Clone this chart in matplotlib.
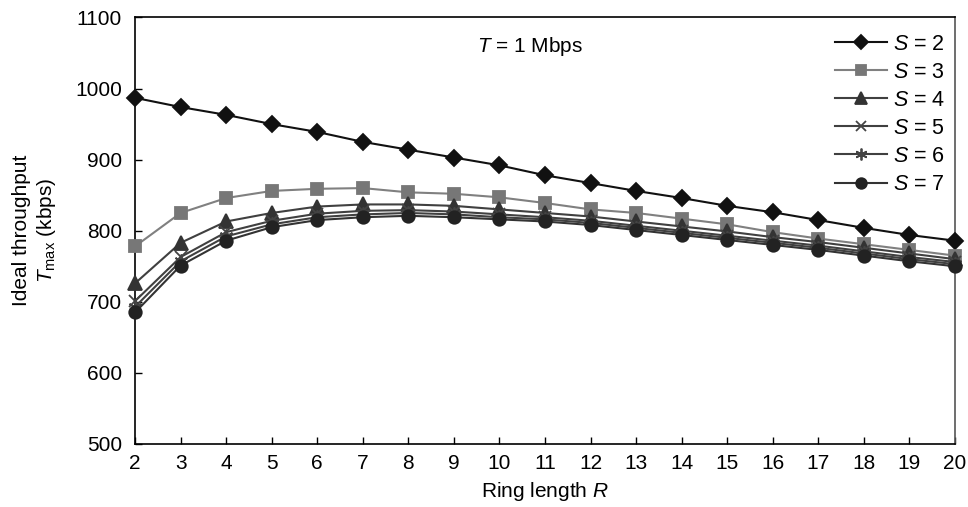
import matplotlib.pyplot as plt
import numpy as np

plt.rcParams['font.family'] = ['Liberation Sans', 'DejaVu Sans']
plt.rcParams['font.size'] = 14
plt.rcParams['mathtext.fontset'] = 'custom'
plt.rcParams['mathtext.rm'] = 'Liberation Sans'
plt.rcParams['mathtext.it'] = 'Liberation Sans:italic'

# ring length R
R = [2, 3, 4, 5, 6, 7, 8, 9, 10, 11, 12, 13, 14, 15, 16, 17, 18, 19, 20]

# ideal throughput T_max (kbps) for each S
s2 = [987, 974, 963, 950, 939, 925, 914, 903, 892, 878, 867, 856, 846, 835, 826, 815, 804, 794, 786]
s3 = [778, 825, 846, 856, 859, 860, 854, 852, 847, 839, 830, 825, 817, 809, 798, 789, 781, 773, 765]
s4 = [726, 783, 813, 825, 834, 837, 837, 835, 830, 825, 820, 813, 806, 799, 791, 784, 776, 768, 760]
s5 = [701, 763, 798, 814, 824, 828, 829, 827, 823, 819, 814, 807, 800, 793, 786, 779, 771, 763, 756]
s6 = [693, 757, 792, 809, 819, 823, 825, 823, 819, 816, 811, 804, 797, 790, 783, 776, 768, 760, 753]
s7 = [685, 751, 786, 805, 815, 819, 821, 819, 816, 813, 808, 801, 794, 787, 780, 773, 765, 757, 750]

series = [s2, s3, s4, s5, s6, s7]
labels = ['2', '3', '4', '5', '6', '7']
markers = ['D', 's', '^', 'x', (6, 2, 0), 'o']
msizes = [8, 9, 9.5, 9, 10, 9]
colors = ['#111111', '#777777', '#333333', '#444444', '#444444', '#222222']
lcolors = ['#111111', '#808080', '#404040', '#404040', '#404040', '#333333']

fig = plt.figure(figsize=(9.68, 5.07), dpi=100)
ax = fig.add_axes([0.1395, 0.1243, 0.8471, 0.8412])

for ys, lab, mk, ms, c, lc in zip(series, labels, markers, msizes, colors, lcolors):
    ax.plot(R, ys, color=lc, lw=1.5, marker=mk, markersize=ms,
            markerfacecolor=c, markeredgecolor=c, markeredgewidth=1.3,
            label=f'$S$ = {lab}', clip_on=False, zorder=3)

ax.set_xlim(2, 20)
ax.set_ylim(500, 1100)
ax.set_xticks(R)
ax.set_yticks(np.arange(500, 1101, 100))
ax.tick_params(direction='in', length=5, width=1, labelsize=15)
ax.tick_params(axis='y', pad=9.5)
ax.tick_params(axis='x', pad=7)

for side in ['left', 'bottom', 'top']:
    ax.spines[side].set_color('black')
    ax.spines[side].set_linewidth(1.2)
ax.spines['right'].set_color('#555555')
ax.spines['right'].set_linewidth(1.2)

ax.set_xlabel('Ring length $R$', fontsize=15, labelpad=5)
ax.set_ylabel('Ideal throughput\n$T_{\\mathrm{max}}$ (kbps)', fontsize=15, labelpad=12,
              linespacing=1.25)

ax.text(9.5, 1059, '$T$ = 1 Mbps', fontsize=15, ha='left', va='center')

leg = ax.legend(loc='upper right', frameon=False, fontsize=15.5, handlelength=2.4,
                handletextpad=0.3, labelspacing=0.33, borderaxespad=0.05,
                bbox_to_anchor=(1.0, 0.985), markerscale=0.85)

plt.savefig('out.png', dpi=100)
